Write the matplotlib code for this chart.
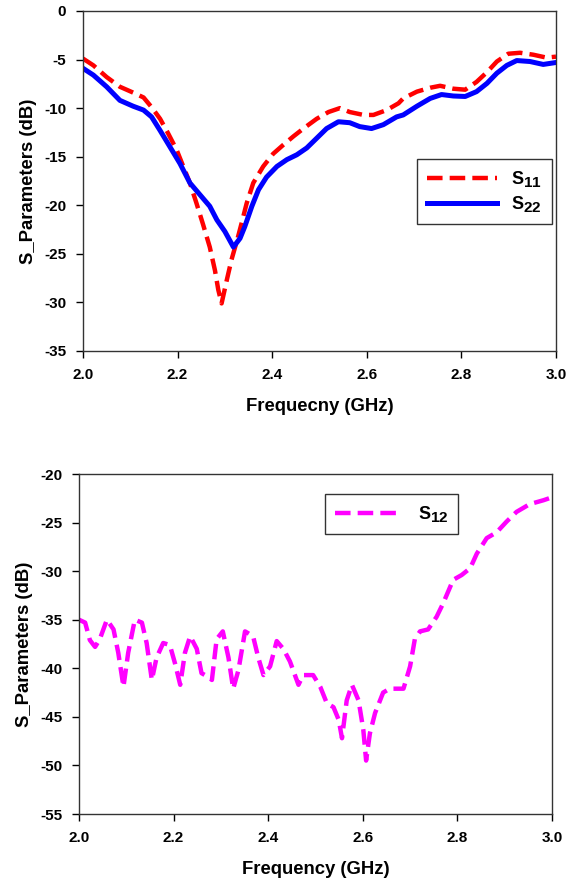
import numpy as np
import matplotlib
matplotlib.use("Agg")
import matplotlib.pyplot as plt
import matplotlib._mathtext as mt

plt.rcParams['font.family'] = ['Liberation Sans', 'DejaVu Sans']
plt.rcParams['font.weight'] = 'bold'
plt.rcParams['axes.unicode_minus'] = False
plt.rcParams['mathtext.fontset'] = 'custom'
plt.rcParams['mathtext.rm'] = 'Liberation Sans:bold'
plt.rcParams['mathtext.bf'] = 'Liberation Sans:bold'
mt.SHRINK_FACTOR = 0.85  # legend subscripts nearly full size, as in the original

# top panel: S11 and S22
f11 = [2.0, 2.022, 2.05, 2.078, 2.106, 2.128, 2.145, 2.163, 2.18, 2.198, 2.212,
       2.226, 2.24, 2.254, 2.268, 2.279, 2.286, 2.293, 2.304, 2.314, 2.328, 2.335,
       2.346, 2.36, 2.381, 2.402, 2.423, 2.445, 2.466, 2.494, 2.519, 2.543, 2.564,
       2.593, 2.614, 2.642, 2.667, 2.677, 2.706, 2.734, 2.755, 2.783, 2.808, 2.832,
       2.854, 2.875, 2.899, 2.924, 2.952, 2.98, 3.0]
s11 = [-4.9, -5.6, -6.8, -7.8, -8.4, -8.9, -9.9, -11.1, -12.6, -14.3, -16.0,
       -17.7, -19.8, -22.0, -24.3, -26.7, -28.7, -30.1, -27.7, -25.6, -23.2, -21.9,
       -19.8, -17.7, -16.0, -14.7, -13.8, -12.9, -12.1, -11.1, -10.4, -10.0, -10.4,
       -10.7, -10.7, -10.2, -9.5, -9.0, -8.3, -7.9, -7.7, -8.0, -8.1, -7.3,
       -6.3, -5.2, -4.4, -4.3, -4.5, -4.8, -4.7]

f22 = [2.0, 2.022, 2.05, 2.078, 2.106, 2.128, 2.145, 2.163, 2.184, 2.205, 2.226,
       2.247, 2.268, 2.283, 2.30, 2.318, 2.332, 2.342, 2.357, 2.371, 2.388, 2.41,
       2.431, 2.452, 2.473, 2.494, 2.515, 2.54, 2.564, 2.585, 2.61, 2.635, 2.663,
       2.677, 2.706, 2.734, 2.758, 2.783, 2.808, 2.832, 2.854, 2.875, 2.896, 2.917,
       2.945, 2.973, 3.0]
s22 = [-5.9, -6.6, -7.8, -9.2, -9.8, -10.2, -10.9, -12.3, -14.0, -15.7, -17.7,
       -18.9, -20.1, -21.5, -22.7, -24.3, -23.4, -22.2, -20.1, -18.4, -17.1, -16.0,
       -15.3, -14.8, -14.1, -13.1, -12.1, -11.4, -11.5, -11.9, -12.1, -11.7, -10.9,
       -10.7, -9.8, -9.0, -8.6, -8.75, -8.8, -8.3, -7.45, -6.4, -5.6, -5.1,
       -5.2, -5.5, -5.3]

# bottom panel: S12
f12 = [2.0, 2.013, 2.023, 2.034, 2.044, 2.059, 2.073, 2.083, 2.094, 2.104, 2.118,
       2.133, 2.143, 2.154, 2.164, 2.178, 2.192, 2.203, 2.214, 2.224, 2.235, 2.249,
       2.259, 2.270, 2.281, 2.291, 2.304, 2.316, 2.326, 2.337, 2.351, 2.368, 2.379,
       2.39, 2.404, 2.418, 2.432, 2.446, 2.464, 2.474, 2.495, 2.51, 2.524, 2.538,
       2.549, 2.556, 2.566, 2.577, 2.591, 2.601, 2.607, 2.615, 2.626, 2.643, 2.657,
       2.686, 2.70, 2.71, 2.721, 2.738, 2.756, 2.77, 2.791, 2.809, 2.827, 2.841,
       2.862, 2.883, 2.904, 2.925, 2.953, 2.982, 3.0]
s12 = [-35.0, -35.3, -37.1, -37.8, -37.0, -35.0, -36.0, -38.4, -41.9, -38.4, -35.0,
       -35.3, -37.4, -41.2, -38.9, -37.4, -37.6, -39.5, -41.7, -38.4, -36.7, -38.0,
       -40.5, -40.8, -41.2, -37.0, -36.2, -38.9, -42.1, -40.2, -36.2, -36.7, -38.9,
       -40.7, -39.8, -37.2, -38.0, -39.3, -41.7, -40.7, -40.7, -41.9, -43.6, -44.0,
       -45.3, -47.2, -43.3, -41.7, -43.3, -46.3, -49.5, -46.7, -44.6, -42.5, -42.1,
       -42.1, -39.8, -37.0, -36.2, -36.0, -34.7, -33.3, -30.9, -30.4, -29.7, -28.2,
       -26.6, -26.0, -24.9, -23.9, -23.1, -22.7, -22.4]

xticks = [2.0, 2.2, 2.4, 2.6, 2.8, 3.0]

fig = plt.figure(figsize=(5.68, 8.85), dpi=100)
ax1 = fig.add_axes([83/568, 1 - 351/885, 473/568, 340/885])
ax2 = fig.add_axes([79/568, 1 - 814/885, 473/568, 340/885])

ax1.plot(f11, s11, color='#ff0000', lw=3.2, dashes=(3.5, 1.6), label=r'$\mathbf{S_{11}}$')
ax1.plot(f22, s22, color='#0000ff', lw=3.6, label=r'$\mathbf{S_{22}}$')
ax1.set_ylim(-35, 0)
ax1.set_xlabel('Frequecny (GHz)', fontsize=13.3, fontweight='bold', labelpad=12)
leg = ax1.legend(loc='upper left', bbox_to_anchor=(0.706, 0.565), borderaxespad=0,
                 fancybox=False, edgecolor='#333333', fontsize=13, handlelength=3.9,
                 handletextpad=0.75, borderpad=0.55, labelspacing=0.3, framealpha=1)
leg.get_frame().set_linewidth(1.0)

ax2.plot(f12, s12, color='#ff00ff', lw=3.2, dashes=(3.5, 1.6), label=r'$\mathbf{S_{12}}$')
ax2.set_ylim(-55, -20)
ax2.set_xlabel('Frequency (GHz)', fontsize=13.3, fontweight='bold', labelpad=12)
leg = ax2.legend(loc='upper left', bbox_to_anchor=(0.52, 0.941), borderaxespad=0,
                 fancybox=False, edgecolor='#333333', fontsize=13, handlelength=3.5,
                 handletextpad=1.1, borderpad=0.55, framealpha=1)
leg.get_frame().set_linewidth(1.0)

for ax in (ax1, ax2):
    ax.set_xlim(2.0, 3.0)
    ax.set_xticks(xticks)
    ax.set_xticklabels(['%.1f' % t for t in xticks])
    ax.set_ylabel('S_Parameters (dB)', fontsize=13.3, fontweight='bold', labelpad=5)
    ax.tick_params(direction='out', length=5, width=1, labelsize=11, pad=7)
    for sp in ax.spines.values():
        sp.set_linewidth(1.0)
        sp.set_color('#333333')
    for lab in ax.get_xticklabels() + ax.get_yticklabels():
        lab.set_fontweight('bold')

fig.savefig('out.png', dpi=100)
